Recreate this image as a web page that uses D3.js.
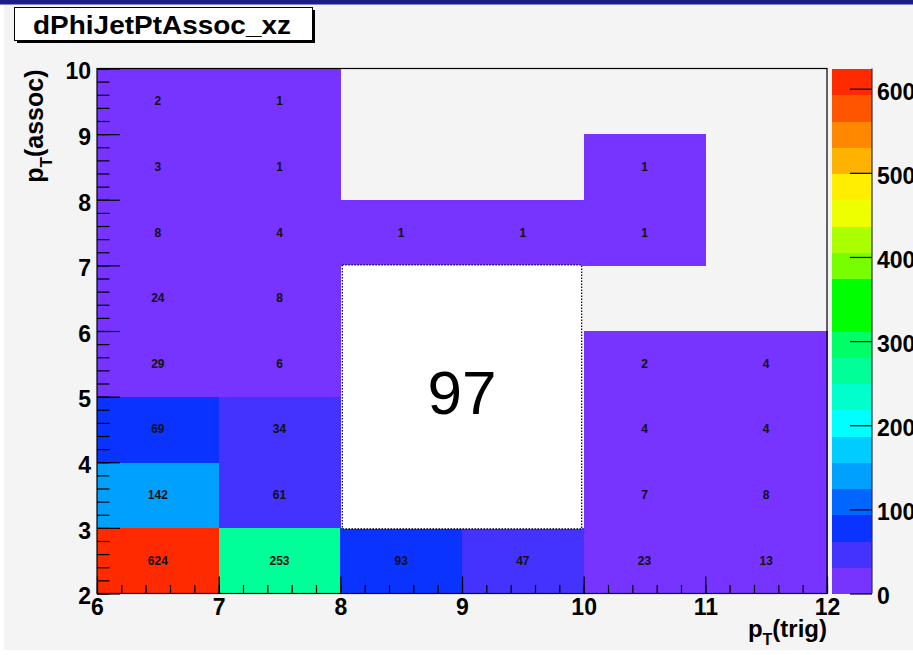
<!DOCTYPE html>
<html>
<head>
<meta charset="utf-8">
<script src="https://cdn.jsdelivr.net/npm/d3@7"></script>
<style>
  body { margin: 0; background: #ffffff; }
  svg text { font-family: "Liberation Sans", Arial, Helvetica, sans-serif; }
</style>
</head>
<body>
<div id="chart"></div>
<script>
/**
 * DATA
 * */
const xBins = [6, 7, 8, 9, 10, 11];          // lower edges of p_T(trig) bins
const yBins = [2, 3, 4, 5, 6, 7, 8, 9];      // lower edges of p_T(assoc) bins
// one list per p_T(assoc) bin, values follow xBins, null = empty bin
const row2 = [624, 253, 93, 47, 23, 13];
const row3 = [142, 61, null, null, 7, 8];
const row4 = [69, 34, null, null, 4, 4];
const row5 = [29, 6, null, null, 2, 4];
const row6 = [24, 8, null, null, null, null];
const row7 = [8, 4, 1, 1, 1, null];
const row8 = [3, 1, null, null, 1, null];
const row9 = [2, 1, null, null, null, null];
const rows = [row2, row3, row4, row5, row6, row7, row8, row9];

const xTicks = [6, 7, 8, 9, 10, 11, 12];
const yTicks = [2, 3, 4, 5, 6, 7, 8, 9, 10];
const zTicks = [0, 100, 200, 300, 400, 500, 600];
const zMax = 624;
const title = "dPhiJetPtAssoc_xz";
const boxLabel = "97";          // pave drawn over the bins 8-10 x 3-7
const boxRange = { x: [8, 10], y: [3, 7] };

// ROOT-like 20 contour palette, bottom to top
const palette = ["#7733ff", "#4433ff", "#0a33ff", "#0066ff", "#00a0ff", "#00ccff",
  "#00ffff", "#00ffcc", "#00ff99", "#00ff66", "#00ff00", "#00ff00", "#77ff00",
  "#aaff00", "#eeff00", "#ffee00", "#ffb300", "#ff8800", "#ff5500", "#ff2a00"];

/**
 * LAYOUT
 * */
const width = 913, height = 655;
const frame = { left: 97, right: 827, top: 68.5, bottom: 593.5 };
const bar = { left: 832, right: 872 };

const svg = d3.select("#chart").append("svg")
  .attr("width", width)
  .attr("height", height);

// pad background + slide decoration
svg.append("rect").attr("width", width).attr("height", height).attr("fill", "#ffffff");
svg.append("rect").attr("x", 4).attr("y", 4).attr("width", width - 4).attr("height", 646).attr("fill", "#f4f4f4");
svg.append("rect").attr("x", 0).attr("y", 0).attr("width", width).attr("height", 4.5).attr("fill", "#1c1c8c");

const x = d3.scaleLinear().domain([6, 12]).range([frame.left, frame.right]);
const y = d3.scaleLinear().domain([2, 10]).range([frame.bottom, frame.top]);
const z = d3.scaleLinear().domain([0, zMax]).range([frame.bottom, frame.top]);
const color = d3.scaleQuantize().domain([0, zMax]).range(palette);

// flatten bins
const cells = [];
rows.forEach((r, j) => r.forEach((v, i) => {
  if (v != null) cells.push({ x0: xBins[i], y0: yBins[j], v: v });
}));

// bins
svg.append("g").selectAll("rect.cell")
  .data(cells)
  .join("rect")
  .attr("class", "cell")
  .attr("x", d => x(d.x0))
  .attr("y", d => y(d.y0 + 1))
  .attr("width", d => x(d.x0 + 1) - x(d.x0) + 0.5)
  .attr("height", d => y(d.y0) - y(d.y0 + 1) + 0.5)
  .attr("fill", d => color(Math.min(d.v, zMax - 0.01)))
  .attr("shape-rendering", "crispEdges");

// bin content text
svg.append("g").selectAll("text.val")
  .data(cells)
  .join("text")
  .attr("class", "val")
  .attr("x", d => x(d.x0 + 0.5))
  .attr("y", d => y(d.y0 + 0.5) + 4)
  .attr("text-anchor", "middle")
  .attr("font-size", 12)
  .attr("font-weight", "bold")
  .attr("fill", "#111")
  .text(d => d.v);

// white pave with the big number
const bx0 = x(boxRange.x[0]) + 2, bx1 = x(boxRange.x[1]) - 2;
const by0 = y(boxRange.y[1]) - 0.5, by1 = y(boxRange.y[0]) + 1;
svg.append("rect")
  .attr("x", bx0).attr("y", by0)
  .attr("width", bx1 - bx0).attr("height", by1 - by0)
  .attr("fill", "#ffffff")
  .attr("stroke", "#000")
  .attr("stroke-width", 1.2)
  .attr("stroke-dasharray", "1.5,1.5");
svg.append("text")
  .attr("x", (bx0 + bx1) / 2)
  .attr("y", (by0 + by1) / 2 + 17)
  .attr("text-anchor", "middle")
  .attr("font-size", 62)
  .attr("fill", "#000")
  .text(boxLabel);

// frame
svg.append("rect")
  .attr("x", frame.left).attr("y", frame.top)
  .attr("width", frame.right - frame.left).attr("height", frame.bottom - frame.top)
  .attr("fill", "none").attr("stroke", "#000").attr("stroke-width", 1.2);

// axes - ROOT style ticks pointing inward
function styleAxis(g) {
  g.select(".domain").remove();
  g.selectAll(".tick line").attr("stroke", "#000").attr("stroke-width", 1.2);
  g.selectAll("text")
    .attr("font-size", 23)
    .attr("font-weight", "bold")
    .attr("fill", "#000")
    .style("font-family", "'Liberation Sans', Arial, sans-serif");
}

const xMinor = d3.range(6, 12.001, 0.2);
const yMinor = d3.range(2, 10.001, 0.2);

svg.append("g")
  .attr("transform", `translate(0,${frame.bottom})`)
  .call(d3.axisBottom(x).tickValues(xMinor).tickSize(-8.5).tickFormat(""))
  .call(styleAxis);
svg.append("g")
  .attr("transform", `translate(0,${frame.bottom})`)
  .call(d3.axisBottom(x).tickValues(xTicks).tickSize(-17).tickSizeOuter(0).tickPadding(3).tickFormat(d3.format("d")))
  .call(styleAxis)
  .call(g => g.selectAll("text").attr("dy", "0.71em").attr("y", 5));

svg.append("g")
  .attr("transform", `translate(${frame.left},0)`)
  .call(d3.axisLeft(y).tickValues(yMinor).tickSize(-12.5).tickFormat(""))
  .call(styleAxis);
svg.append("g")
  .attr("transform", `translate(${frame.left},0)`)
  .call(d3.axisLeft(y).tickValues(yTicks).tickSize(-23).tickSizeOuter(0).tickFormat(d3.format("d")))
  .call(styleAxis)
  .call(g => g.selectAll("text").attr("x", -6).attr("dy", "0.45em"));

// colour bar
svg.append("g").selectAll("rect.band")
  .data(palette)
  .join("rect")
  .attr("class", "band")
  .attr("x", bar.left)
  .attr("width", bar.right - bar.left)
  .attr("y", (c, i) => z((i + 1) * zMax / palette.length))
  .attr("height", (c, i) => z(i * zMax / palette.length) - z((i + 1) * zMax / palette.length) + 0.5)
  .attr("fill", c => c)
  .attr("shape-rendering", "crispEdges");
svg.append("line")
  .attr("x1", bar.right).attr("x2", bar.right)
  .attr("y1", frame.top).attr("y2", frame.bottom)
  .attr("stroke", "#333").attr("stroke-width", 1.2);
svg.append("g")
  .attr("transform", `translate(${bar.right},0)`)
  .call(d3.axisRight(z).tickValues(zTicks).tickSize(-22).tickSizeOuter(0).tickPadding(5))
  .call(styleAxis)
  .call(g => g.selectAll("text").attr("x", 5).attr("dy", "0.45em"));

// axis titles
const yTitle = svg.append("text")
  .attr("transform", `translate(43,${frame.top + 1}) rotate(-90)`)
  .attr("text-anchor", "end")
  .attr("font-size", 25)
  .attr("font-weight", "bold");
yTitle.append("tspan").text("p");
yTitle.append("tspan").attr("dy", 9).attr("font-size", 17).text("T");
yTitle.append("tspan").attr("dy", -9).text("(assoc)");

const xTitle = svg.append("text")
  .attr("x", frame.right)
  .attr("y", 637)
  .attr("text-anchor", "end")
  .attr("font-size", 24)
  .attr("font-weight", "bold");
xTitle.append("tspan").text("p");
xTitle.append("tspan").attr("dy", 8).attr("font-size", 16).text("T");
xTitle.append("tspan").attr("dy", -8).text("(trig)");

// title box
svg.append("rect")
  .attr("x", 17).attr("y", 10).attr("width", 298).attr("height", 33)
  .attr("fill", "#000");
svg.append("rect")
  .attr("x", 14.5).attr("y", 7.5).attr("width", 298).attr("height", 33)
  .attr("fill", "#ffffff").attr("stroke", "#000").attr("stroke-width", 1);
svg.append("text")
  .attr("x", 33).attr("y", 34)
  .attr("font-size", 25)
  .attr("font-weight", "bold")
  .attr("textLength", 258)
  .attr("lengthAdjust", "spacingAndGlyphs")
  .text(title);
</script>
</body>
</html>
